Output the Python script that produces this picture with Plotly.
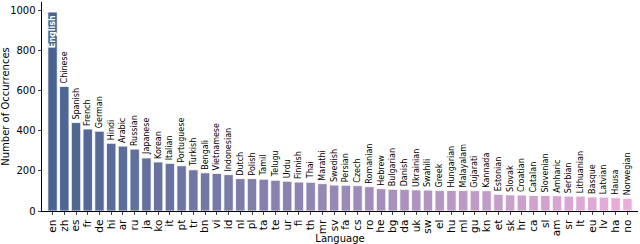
import plotly.graph_objects as go

codes = ["en","zh","es","fr","de","hi","ar","ru","ja","ko","it","pt","tr","bn","vi","id","nl","pl","ta","te",
         "ur","fi","th","mr","sv","fa","cs","ro","he","bg","da","uk","sw","el","hu","ml","gu","kn","et","sk",
         "hr","ca","sl","am","sr","lt","eu","lv","ha","no"]
names = ["English","Chinese","Spanish","French","German","Hindi","Arabic","Russian","Japanese","Korean","Italian",
         "Portuguese","Turkish","Bengali","Vietnamese","Indonesian","Dutch","Polish","Tamil","Telugu","Urdu",
         "Finnish","Thai","Marathi","Swedish","Persian","Czech","Romanian","Hebrew","Bulgarian","Danish",
         "Ukrainian","Swahili","Greek","Hungarian","Malayalam","Gujarati","Kannada","Estonian","Slovak",
         "Croatian","Catalan","Slovenian","Amharic","Serbian","Lithuanian","Basque","Latvian","Hausa","Norwegian"]
counts = [990,620,440,408,397,337,323,308,264,244,237,225,205,190,187,181,161,161,158,153,
          148,144,143,136,129,128,126,121,111,108,108,105,104,102,102,102,101,101,83,80,
          79,77,77,76,74,74,70,69,66,63]
y_ticks = [0,200,400,600,800,1000]

c0 = (74, 100, 145)
c1 = (233, 174, 219)
n = len(codes)
colors = []
for i in range(n):
    t = i / (n - 1)
    r, g, b = (round(c0[k] + (c1[k] - c0[k]) * t) for k in range(3))
    colors.append(f"rgb({r},{g},{b})")

texts = ["<b>" + names[0] + "</b>"] + names[1:]
positions = ["inside"] + ["outside"] * (n - 1)

font = "DejaVu Sans, Arial, sans-serif"
fig = go.Figure(go.Bar(
    x=codes, y=counts, width=0.8,
    marker=dict(color=colors, line=dict(color="white", width=0.8)),
    text=texts, textposition=positions, textangle=-90,
    insidetextanchor="end",
    insidetextfont=dict(color="white", size=8, family=font),
    outsidetextfont=dict(color="black", size=8, family=font),
    constraintext="none", cliponaxis=False, hoverinfo="skip",
))
fig.update_layout(
    width=640, height=244,
    margin=dict(l=42, r=2, t=2, b=33),
    plot_bgcolor="white", paper_bgcolor="white",
    font=dict(family=font, size=10, color="black"),
    showlegend=False, bargap=0.2,
)
fig.update_xaxes(
    range=[-0.9, 49.9], tickmode="linear", dtick=1, tickangle=-90, ticks="outside", ticklen=3.5, tickwidth=0.8,
    showline=True, linecolor="black", linewidth=0.8, showgrid=False, automargin=False,
    tickfont=dict(size=10.5), title=dict(text="Language", font=dict(size=10), standoff=1),
)
fig.update_yaxes(
    range=[0, 1040], tickvals=y_ticks, ticks="outside", ticklen=3.5, tickwidth=0.8,
    showline=True, linecolor="black", linewidth=0.8, showgrid=False, zeroline=False, automargin=False,
    tickfont=dict(size=10), title=dict(text="Number of Occurrences", font=dict(size=10), standoff=5),
)
fig.write_html("out.html", config={"displayModeBar": False},
               post_script="document.body.style.margin='0';")
